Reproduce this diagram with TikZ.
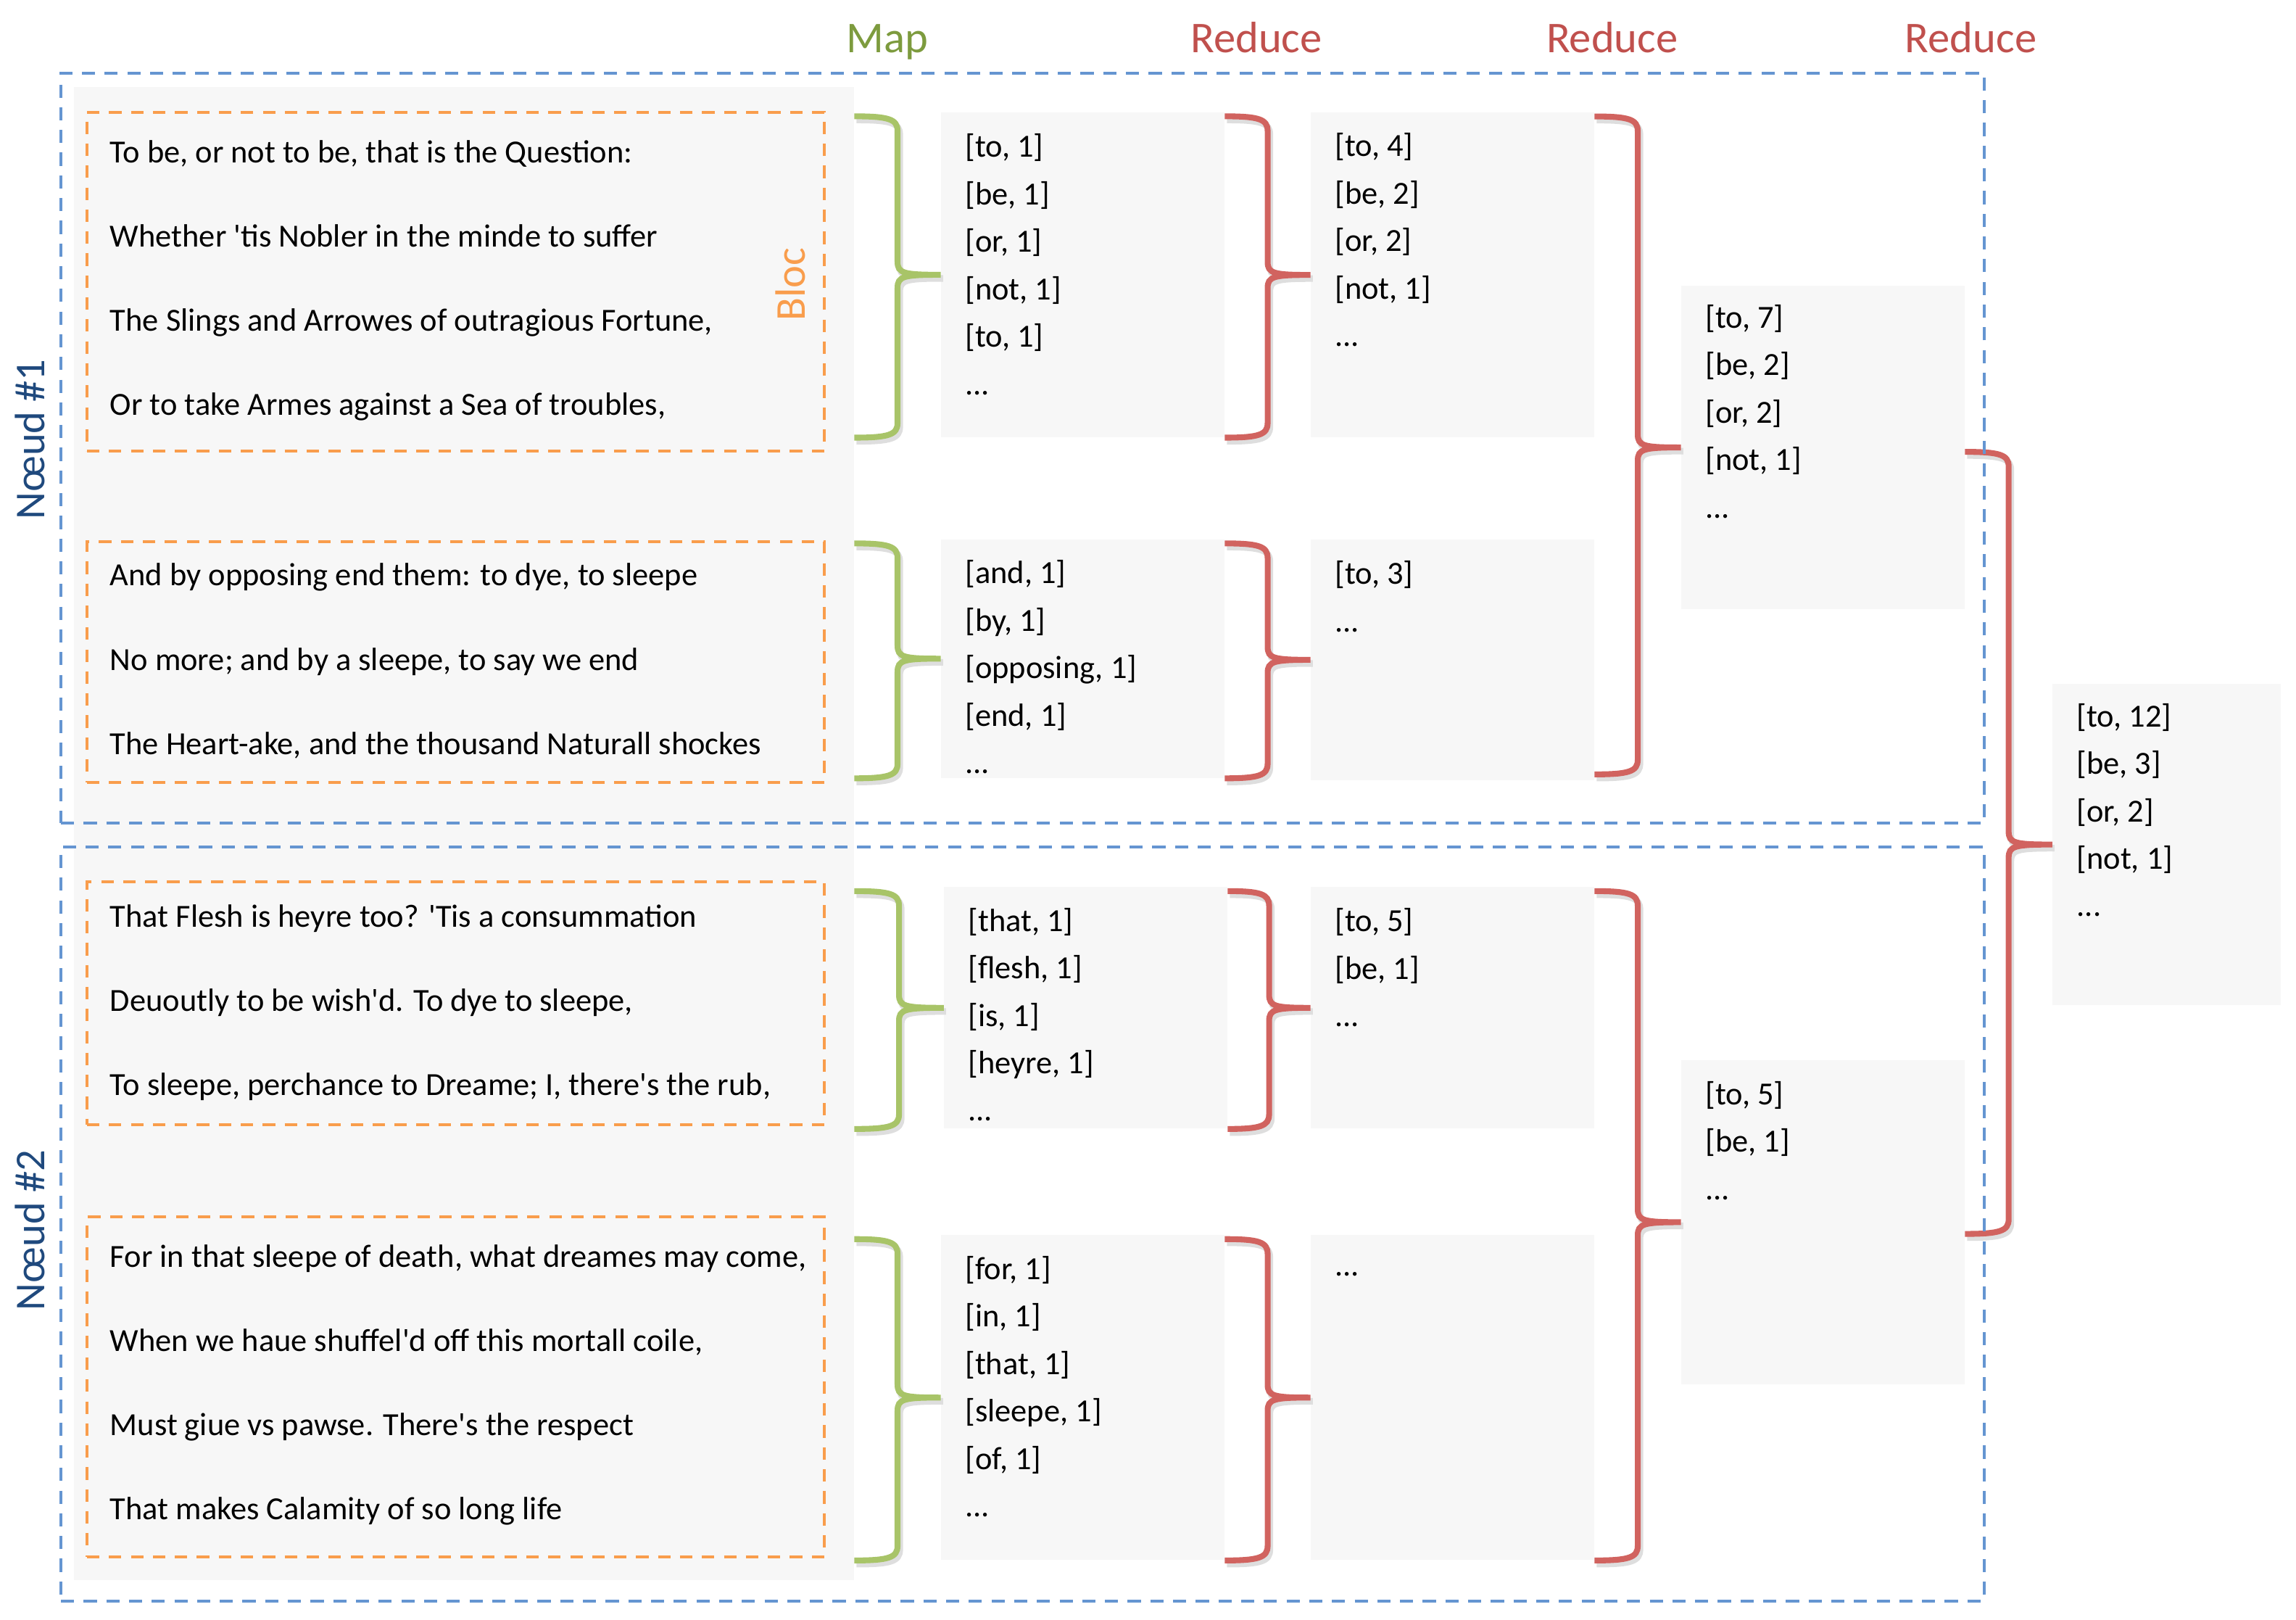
\documentclass[tikz,border=0pt]{standalone}
\usepackage{fontspec}
\setmainfont{Carlito}
\usetikzlibrary{calc}

\definecolor{panelgray}{RGB}{247,247,247}
\definecolor{noeudblue}{RGB}{101,149,209}
\definecolor{labelblue}{RGB}{31,73,125}
\definecolor{blocorange}{RGB}{249,157,76}
\definecolor{mapgreen}{RGB}{168,196,104}
\definecolor{mapheadgreen}{RGB}{125,155,62}
\definecolor{reducered}{RGB}{209,99,95}
\definecolor{reduceheadred}{RGB}{192,80,77}

\tikzset{
  maphead/.style={anchor=base,inner sep=0pt,text=mapheadgreen,font=\fontsize{30}{30}\selectfont},
  reducehead/.style={anchor=base,inner sep=0pt,text=reduceheadred,font=\fontsize{30}{30}\selectfont},
  panel/.style={anchor=north west,inner sep=0pt,fill=panelgray},
  noeud/.style={anchor=north west,inner sep=0pt,draw=noeudblue,line width=2pt,dash pattern=on 9pt off 6.5pt},
  noeudlabel/.style={anchor=base,inner sep=0pt,rotate=90,text=labelblue,font=\fontsize{29}{29}\selectfont},
  bloc/.style={anchor=north west,inner sep=0pt,draw=blocorange,line width=2pt,dash pattern=on 8.5pt off 6.5pt},
  bloclabel/.style={anchor=base,inner sep=0pt,rotate=90,text=blocorange,font=\fontsize{29}{29}\selectfont},
  verse/.style={anchor=base west,inner sep=0pt,align=left,font=\fontsize{22}{57.5}\selectfont},
  pairbox/.style={anchor=north west,inner sep=0pt,fill=panelgray,minimum width=193.5pt},
  pairs/.style={anchor=base west,inner sep=0pt,align=left,font=\fontsize{22}{32.4}\selectfont},
  mapbrace/.style={draw=mapgreen,line width=4pt,
    preaction={draw=black!13,line width=4.5pt,transform canvas={shift={(1.5pt,-2.5pt)}}}},
  redbrace/.style={draw=reducered,line width=4pt,
    preaction={draw=black!13,line width=4.5pt,transform canvas={shift={(1.5pt,-2.5pt)}}}}
}

\newcommand{\apos}{\textquotesingle}
\newcommand{\accolade}[4]{%
  \draw[#1] let \p1=#2, \p2=#3, \p3=#4, \n1={0.5*(\x1+\x3)} in
    (\x1,\y1-3pt) .. controls (\n1-6pt,\y1-3pt) and (\n1,\y1-5pt) .. (\n1,\y1-13pt)
    -- (\n1,\y3+9pt) .. controls (\n1,\y3+1pt) and (\n1+4pt,\y3) .. (\x3,\y3)
    .. controls (\n1+4pt,\y3) and (\n1,\y3-1pt) .. (\n1,\y3-9pt)
    -- (\n1,\y2+10pt) .. controls (\n1,\y2+2pt) and (\n1-6pt,\y2) .. (\x1,\y2);}

\begin{document}
\begin{tikzpicture}[x=1pt,y=-1pt]
\useasboundingbox (0,0) rectangle (1568,1105.6);

\node[maphead] (map) at (606,36) {Map};
\node[reducehead] (reduceA) at (858,36) {Reduce};
\node[reducehead] (reduceB) at (1101,36) {Reduce};
\node[reducehead] (reduceC) at (1346,36) {Reduce};

\node[panel,minimum width=532.5pt,minimum height=1019.4pt] (panel) at (50.5,59) {};

\node[bloc,minimum width=503.6pt,minimum height=231.4pt] (b1) at (58.4,75.6) {};
\node[bloc,minimum width=503.6pt,minimum height=164.4pt] (b2) at (58.4,369) {};
\node[bloc,minimum width=503.6pt,minimum height=166pt] (b3) at (58.4,601) {};
\node[bloc,minimum width=503.6pt,minimum height=232pt] (b4) at (58.4,830) {};
\node[bloclabel] (bloc) at (549.6,194) {Bloc};

\node[verse] (v1) at (75,283.5) {To be, or not to be, that is the Question:\\
Whether \apos tis Nobler in the minde to suffer\\
The Slings and Arrowes of outragious Fortune,\\
Or to take Armes against a Sea of troubles,};
\node[verse] (v2) at (75,515) {And by opposing end them: to dye, to sleepe\\
No more; and by a sleepe, to say we end\\
The Heart-ake, and the thousand Naturall shockes};
\node[verse] (v3) at (75,748) {That Flesh is heyre too? \apos Tis a consummation\\
Deuoutly to be wish\apos d. To dye to sleepe,\\
To sleepe, perchance to Dreame; I, there\apos s the rub,};
\node[verse] (v4) at (75,1037.5) {For in that sleepe of death, what dreames may come,\\
When we haue shuffel\apos d off this mortall coile,\\
Must giue vs pawse. There\apos s the respect\\
That makes Calamity of so long life};

\node[pairbox,minimum height=222pt] (m1) at (642.5,76.4) {};
\node[pairbox,minimum height=163pt] (m2) at (642.5,368) {};
\node[pairbox,minimum height=165pt] (m3) at (644.5,605.4) {};
\node[pairbox,minimum height=222pt] (m4) at (642.5,843) {};
\node[pairbox,minimum height=222pt] (ra1) at (895,76.5) {};
\node[pairbox,minimum height=164pt] (ra2) at (895,368.3) {};
\node[pairbox,minimum height=165pt] (ra3) at (895,605.4) {};
\node[pairbox,minimum height=222pt] (ra4) at (895,843) {};
\node[pairbox,minimum height=220.6pt] (rb1) at (1148,195) {};
\node[pairbox,minimum height=221.5pt] (rb2) at (1148,723.5) {};
\node[pairbox,minimum width=156pt,minimum height=219.2pt] (fin) at (1401.6,466.8) {};

\node[pairs] (m1t) at ([shift={(16.5pt,-193pt)}]m1.north west) {[to, 1]\\{}[be, 1]\\{}[or, 1]\\{}[not, 1]\\{}[to, 1]\\...};
\node[pairs] (m2t) at ([shift={(16.5pt,-160pt)}]m2.north west) {[and, 1]\\{}[by, 1]\\{}[opposing, 1]\\{}[end, 1]\\...};
\node[pairs] (m3t) at ([shift={(16.5pt,-160pt)}]m3.north west) {[that, 1]\\{}[flesh, 1]\\{}[is, 1]\\{}[heyre, 1]\\...};
\node[pairs] (m4t) at ([shift={(16.5pt,-192.5pt)}]m4.north west) {[for, 1]\\{}[in, 1]\\{}[that, 1]\\{}[sleepe, 1]\\{}[of, 1]\\...};
\node[pairs] (ra1t) at ([shift={(16.5pt,-160pt)}]ra1.north west) {[to, 4]\\{}[be, 2]\\{}[or, 2]\\{}[not, 1]\\...};
\node[pairs] (ra2t) at ([shift={(16.5pt,-63pt)}]ra2.north west) {[to, 3]\\...};
\node[pairs] (ra3t) at ([shift={(16.5pt,-95.5pt)}]ra3.north west) {[to, 5]\\{}[be, 1]\\...};
\node[pairs] (ra4t) at ([shift={(16.5pt,-28pt)}]ra4.north west) {...};
\node[pairs] (rb1t) at ([shift={(16.5pt,-158.5pt)}]rb1.north west) {[to, 7]\\{}[be, 2]\\{}[or, 2]\\{}[not, 1]\\...};
\node[pairs] (rb2t) at ([shift={(16.5pt,-95.5pt)}]rb2.north west) {[to, 5]\\{}[be, 1]\\...};
\node[pairs] (fint) at ([shift={(16.5pt,-159pt)}]fin.north west) {[to, 12]\\{}[be, 3]\\{}[or, 2]\\{}[not, 1]\\...};

\accolade{mapbrace}{(panel.east |- m1.north)}{(panel.east |- m1.south)}{(m1.west)}
\accolade{mapbrace}{(panel.east |- m2.north)}{(panel.east |- m2.south)}{(m2.west)}
\accolade{mapbrace}{(panel.east |- m3.north)}{(panel.east |- m3.south)}{(m3.west)}
\accolade{mapbrace}{(panel.east |- m4.north)}{(panel.east |- m4.south)}{(m4.west)}
\accolade{redbrace}{(m1.north east)}{(m1.south east)}{(ra1.west)}
\accolade{redbrace}{(m2.north east)}{(m2.south east)}{(ra2.west)}
\accolade{redbrace}{(m3.north east)}{(m3.south east)}{(ra3.west)}
\accolade{redbrace}{(m4.north east)}{(m4.south east)}{(ra4.west)}
\accolade{redbrace}{(ra1.north east)}{([yshift=4pt]ra2.south east)}{(rb1.west)}
\accolade{redbrace}{(ra3.north east)}{(ra4.south east)}{(rb2.west)}
\accolade{redbrace}{(rb1.east)}{([yshift=-8pt]rb2.east)}{(fin.west)}

\node[noeud,minimum width=1313.4pt,minimum height=512pt] (n1) at (40.6,49) {};
\node[noeud,minimum width=1313.4pt,minimum height=514.5pt] (n2) at (40.6,577.5) {};
\node[noeudlabel] (n1label) at (30.5,300) {Nœud \#1};
\node[noeudlabel] (n2label) at (30.5,840) {Nœud \#2};
\end{tikzpicture}
\end{document}
